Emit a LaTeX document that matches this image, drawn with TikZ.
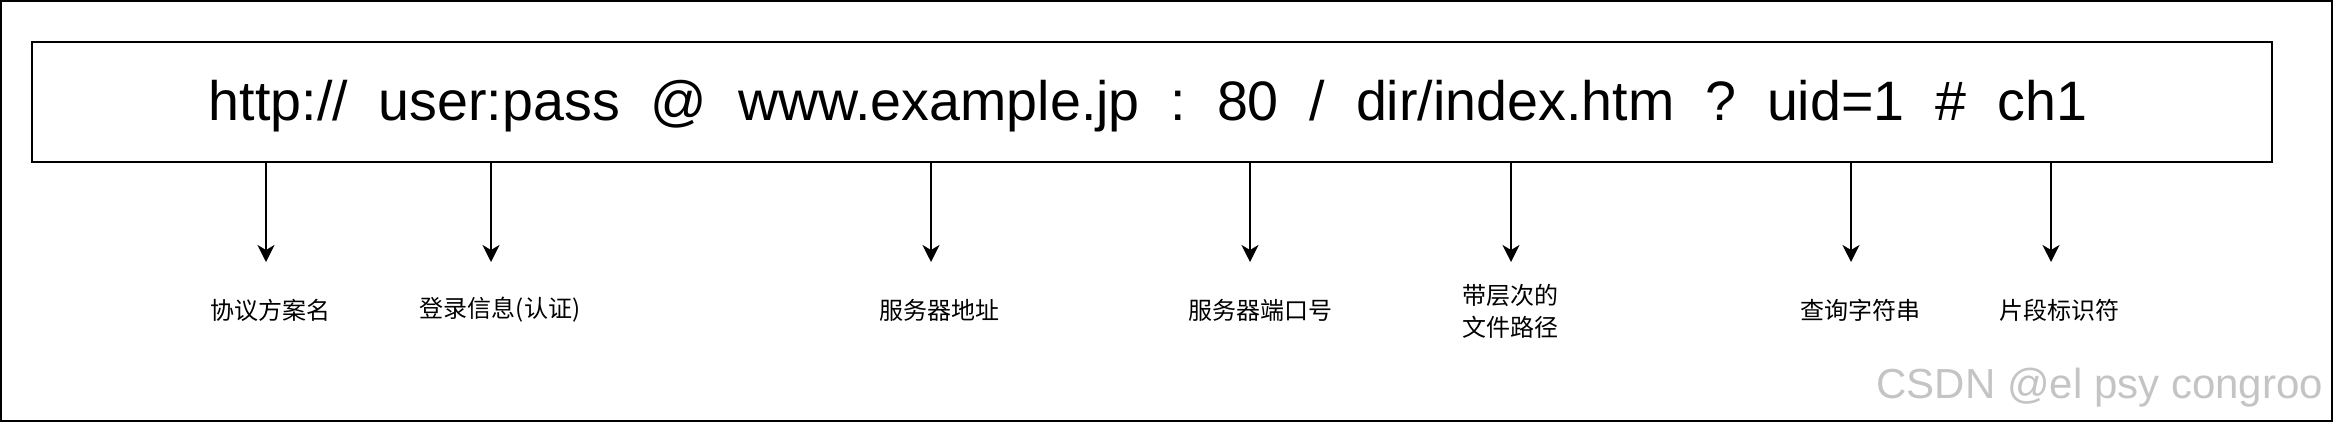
\documentclass[tikz,border=0pt]{standalone}
\usepackage{fontspec}
\setmainfont{Liberation Sans}
\newfontfamily\cjk{Noto Sans CJK SC}
\usetikzlibrary{arrows.meta}
\definecolor{wmgray}{HTML}{C4C4C4}
\begin{document}
\begin{tikzpicture}[x=0.5pt,y=-0.5pt,
  boxstyle/.style={draw, line width=1pt, inner sep=0pt, minimum width=1120pt, minimum height=60pt, anchor=north west},
  arr/.style={line width=1pt, -{Stealth[length=8.5pt,width=8.5pt,inset=2.5pt]}},
  lbl/.style={font=\cjk\fontsize{12pt}{16pt}\selectfont, align=center, inner sep=0pt},
  urltext/.style={font=\fontsize{27.8pt}{30pt}\selectfont, inner sep=0pt, anchor=base}]
\useasboundingbox (0,0) rectangle (2334,424);
\draw[line width=1.1pt] (1,1) rectangle (2332,421);
\node[boxstyle] (box) at (31,41) {};
\node[urltext] (url) at (1148,120) {http://~~user:pass~~@~~www.example.jp~~:~~80~~/~~dir/index.htm~~?~~uid=1~~\#~~ch1};
% arrow tips
\coordinate (t1) at (266,262);
\coordinate (t2) at (491,262);
\coordinate (t3) at (931,262);
\coordinate (t4) at (1250,262);
\coordinate (t5) at (1511,262);
\coordinate (t6) at (1851,262);
\coordinate (t7) at (2051,262);
\foreach \i in {1,...,7} {\draw[arr] (t\i |- box.south) -- (t\i);}
% labels
\node[lbl] (l1) at (270,310) {协议方案名};
\node[lbl] (l2) at (500,310) {登录信息(认证)};
\node[lbl] (l3) at (939,310) {服务器地址};
\node[lbl] (l4) at (1260,310) {服务器端口号};
\node[lbl] (l5) at (1510,311) {带层次的\\文件路径};
\node[lbl] (l6) at (1860,310) {查询字符串};
\node[lbl] (l7) at (2059,310) {片段标识符};
% watermark
\node[anchor=base west, inner sep=0pt, font=\fontsize{21pt}{21pt}\selectfont, text=wmgray] (wm) at (1876,398) {CSDN @el psy congroo};
\end{tikzpicture}
\end{document}
